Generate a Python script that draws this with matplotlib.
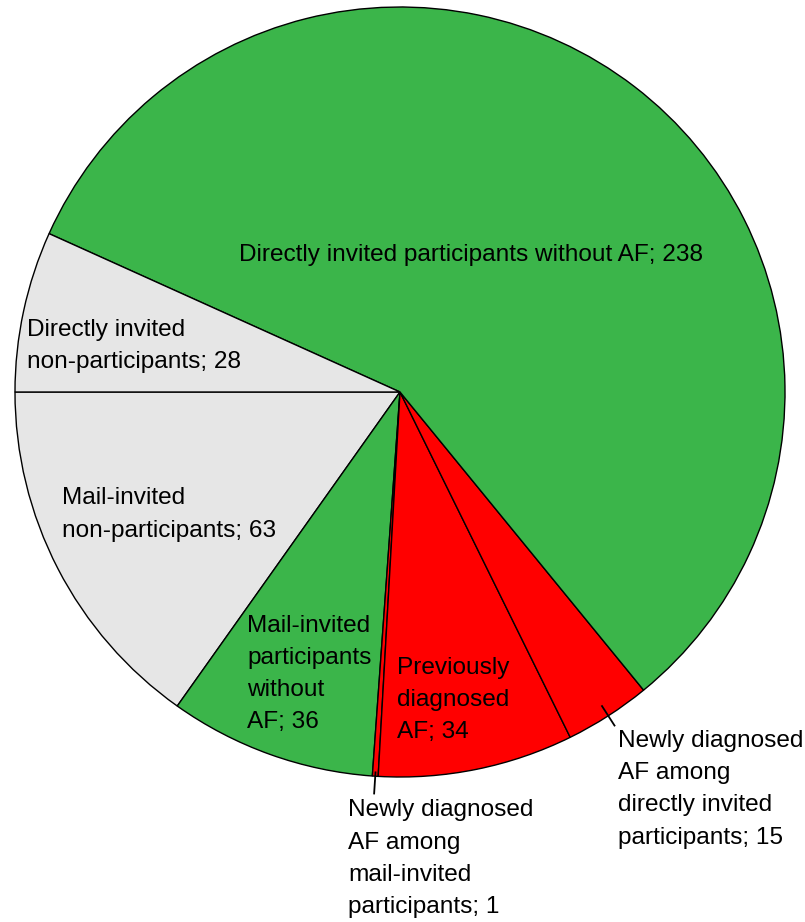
import numpy as np
import matplotlib.pyplot as plt

plt.rcParams['font.family'] = ['Liberation Sans', 'DejaVu Sans']

# slices, counter-clockwise from 9 o'clock
labels = [
    "Mail-invited\nnon-participants; 63",
    "Mail-invited\nparticipants\nwithout\nAF; 36",
    "Newly diagnosed\nAF among\nmail-invited\nparticipants; 1",
    "Previously\ndiagnosed\nAF; 34",
    "Newly diagnosed\nAF among\ndirectly invited\nparticipants; 15",
    "Directly invited participants without AF; 238",
    "Directly invited\nnon-participants; 28",
]
values = [63, 36, 1, 34, 15, 238, 28]
colors = ['#e6e6e6', '#3bb54a', '#ff0000', '#ff0000', '#ff0000', '#3bb54a', '#e6e6e6']

# label positions in pie units (radius 1), and alignment
label_pos = [(-0.878, -0.318), (-0.397, -0.732), (-0.135, -1.212), (-0.008, -0.800),
             (0.566, -1.032), (0.184, 0.356), (-0.969, 0.119)]
label_ha = ['left', 'left', 'left', 'left', 'left', 'center', 'left']
leaders = {2: (0.99, 1.045), 4: (0.97, 1.03)}

fig = plt.figure(figsize=(8.05, 9.22), dpi=100)
ax = fig.add_axes([15 / 805, 145 / 922, 770 / 805, 770 / 922])

wedges, _ = ax.pie(values, colors=colors, startangle=180, counterclock=True,
                   wedgeprops=dict(edgecolor='black', linewidth=1.0))

for i, w in enumerate(wedges):
    x, y = label_pos[i]
    ax.text(x, y, labels[i], ha=label_ha[i], va='center', fontsize=17.6,
            linespacing=1.6, color='black')
    if i in leaders:
        a = np.deg2rad((w.theta1 + w.theta2) / 2)
        r0, r1 = leaders[i]
        ax.plot([r0 * np.cos(a), r1 * np.cos(a)], [r0 * np.sin(a), r1 * np.sin(a)],
                color='black', linewidth=1.3, clip_on=False)

ax.set_xlim(-1, 1)
ax.set_ylim(-1, 1)
ax.set_aspect('equal')
ax.axis('off')

fig.savefig('out.png', dpi=100)
